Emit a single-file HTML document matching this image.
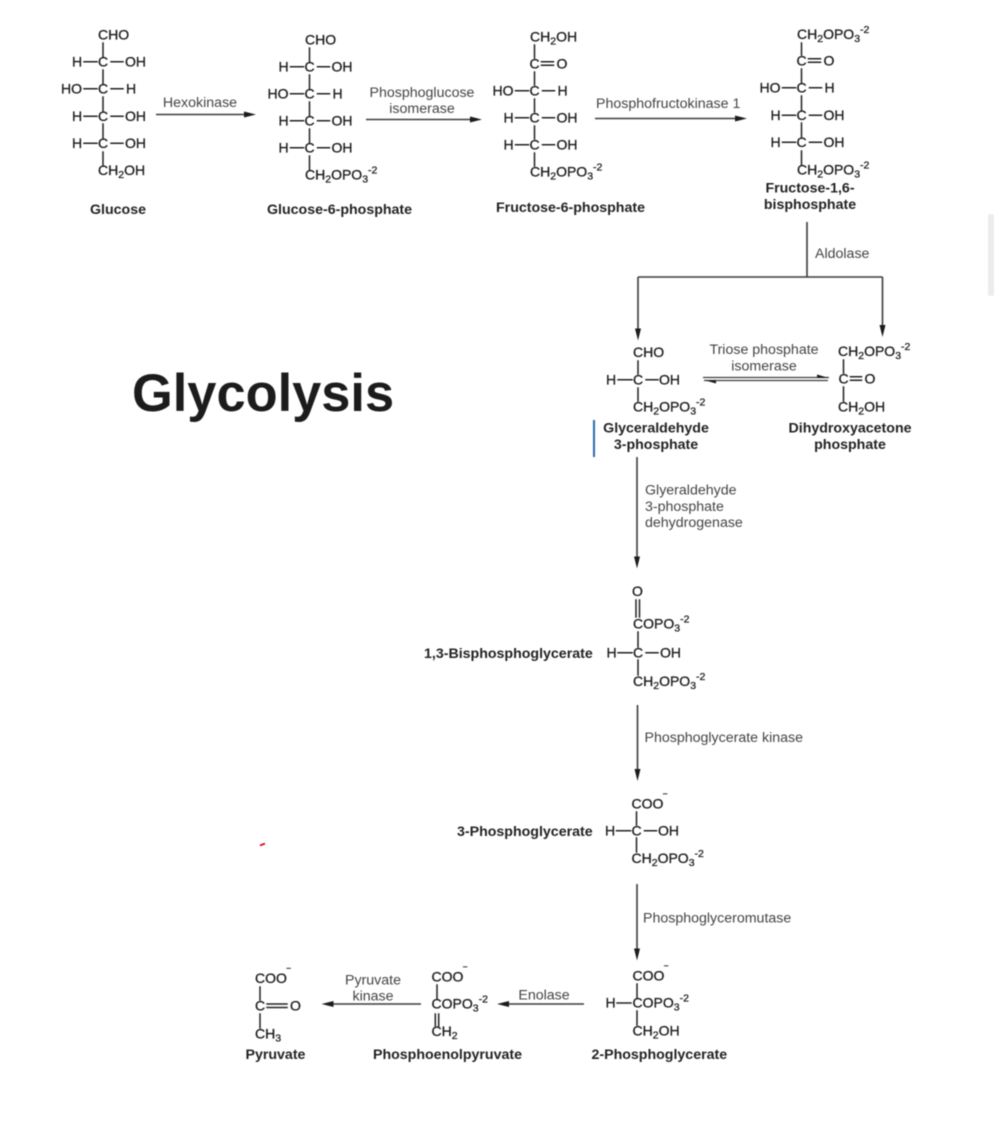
<!DOCTYPE html>
<html lang="en">
<head>
<meta charset="utf-8">
<title>Glycolysis</title>
<style>
html,body{margin:0;padding:0;background:#fff;width:1002px;height:1136px;overflow:hidden}
svg{display:block;filter:blur(.5px)}
text{font-family:"Liberation Sans",Arial,sans-serif;font-size:14px;fill:#1c1c1c;stroke:#1c1c1c;stroke-width:.3px}
.b{font-weight:bold;fill:#222;font-size:14.2px;stroke:none}
.e{fill:#444;font-size:14.2px;stroke:none}
.m{text-anchor:middle}
.bond{stroke:#222;stroke-width:1.5;fill:none;stroke-linecap:square}
.ar{stroke:#3c3c3c;stroke-width:1.6;fill:none}
.hd{fill:#1c1c1c;stroke:none}
.s{font-size:10.500px}
</style>
</head>
<body>
<svg xmlns="http://www.w3.org/2000/svg" width="1002" height="1136" viewBox="0 0 1002 1136">
<rect width="1002" height="1136" fill="#fff"/>
<rect x="988" y="214" width="6" height="82" rx="2" fill="#ececec"/>
<path d="M260 845.500L265 843.500" stroke="#e01020" stroke-width="1.8"/>
<rect x="593" y="420" width="2" height="37" fill="#2a6aad"/>

<text x="132" y="411" style="font-size:52.400px;font-weight:bold;fill:#1c1c1c;stroke:none">Glycolysis</text>

<!-- Glucose -->
<path class="bond" d="M103 43V57M103 70V84M103 97V111M103 124V138M103 152V165"/>
<text x="98" y="39.700">CHO</text>
<g transform="translate(103,66.700)"><text x="-31">H</text><text x="-5">C</text><text x="22">OH</text><path class="bond" d="M-19-5H-6M8-5H20"/></g>
<g transform="translate(103,93.700)"><text x="-42">HO</text><text x="-5">C</text><text x="23">H</text><path class="bond" d="M-19-5H-6M8-5H20"/></g>
<g transform="translate(103,121.200)"><text x="-31">H</text><text x="-5">C</text><text x="22">OH</text><path class="bond" d="M-19-5H-6M8-5H20"/></g>
<g transform="translate(103,148.200)"><text x="-31">H</text><text x="-5">C</text><text x="22">OH</text><path class="bond" d="M-19-5H-6M8-5H20"/></g>
<text x="98" y="175.200">CH<tspan class="s" dy="3">2</tspan><tspan dy="-3">OH</tspan></text>
<text class="b" x="90" y="214">Glucose</text>

<!-- Hexokinase -->
<text class="e m" x="200" y="107">Hexokinase</text>
<path class="ar" d="M156 114.500H248"/><path class="hd" d="M256 114.500L244 111.500V117.500Z"/>

<!-- G6P -->
<path class="bond" d="M309.500 48V62M309.500 75V89M309.500 102V116M309.500 129V143M309.500 156V170"/>
<text x="305" y="44.700">CHO</text>
<g transform="translate(309.500,71.700)"><text x="-31">H</text><text x="-5">C</text><text x="22">OH</text><path class="bond" d="M-19-5H-6M8-5H20"/></g>
<g transform="translate(309.500,98.700)"><text x="-42">HO</text><text x="-5">C</text><text x="23">H</text><path class="bond" d="M-19-5H-6M8-5H20"/></g>
<g transform="translate(309.500,125.700)"><text x="-31">H</text><text x="-5">C</text><text x="22">OH</text><path class="bond" d="M-19-5H-6M8-5H20"/></g>
<g transform="translate(309.500,152.700)"><text x="-31">H</text><text x="-5">C</text><text x="22">OH</text><path class="bond" d="M-19-5H-6M8-5H20"/></g>
<text x="305" y="179.700">CH<tspan class="s" dy="3">2</tspan><tspan dy="-3">OPO</tspan><tspan class="s" dy="3">3</tspan><tspan class="s" dy="-9">-2</tspan></text>
<text class="b" x="267" y="214">Glucose-6-phosphate</text>

<!-- PGI -->
<text class="e m" x="422" y="97">Phosphoglucose</text>
<text class="e m" x="422" y="113">isomerase</text>
<path class="ar" d="M366 119.500H474"/><path class="hd" d="M482 119.500L470 116.500V122.500Z"/>

<!-- F6P -->
<path class="bond" d="M534.500 45V58M534.500 72V85M534.500 99V112M534.500 126V139M534.500 153V166"/>
<text x="530" y="41.700">CH<tspan class="s" dy="3">2</tspan><tspan dy="-3">OH</tspan></text>
<g transform="translate(534.500,68.700)"><text x="-5">C</text><text x="22">O</text><path class="bond" d="M7-7H19M7-3.500H19"/></g>
<g transform="translate(534.500,95.700)"><text x="-42">HO</text><text x="-5">C</text><text x="23">H</text><path class="bond" d="M-19-5H-6M8-5H20"/></g>
<g transform="translate(534.500,122.700)"><text x="-31">H</text><text x="-5">C</text><text x="22">OH</text><path class="bond" d="M-19-5H-6M8-5H20"/></g>
<g transform="translate(534.500,149.700)"><text x="-31">H</text><text x="-5">C</text><text x="22">OH</text><path class="bond" d="M-19-5H-6M8-5H20"/></g>
<text x="530" y="176.700">CH<tspan class="s" dy="3">2</tspan><tspan dy="-3">OPO</tspan><tspan class="s" dy="3">3</tspan><tspan class="s" dy="-9">-2</tspan></text>
<text class="b" x="496" y="212">Fructose-6-phosphate</text>

<!-- PFK -->
<text class="e" x="596" y="108">Phosphofructokinase 1</text>
<path class="ar" d="M595 118.500H739"/><path class="hd" d="M747 118.500L735 115.500V121.500Z"/>

<!-- F16BP -->
<path class="bond" d="M801.500 43V55M801.500 69V83M801.500 96V110M801.500 123V137M801.500 151V165"/>
<text x="797" y="39.200">CH<tspan class="s" dy="3">2</tspan><tspan dy="-3">OPO</tspan><tspan class="s" dy="3">3</tspan><tspan class="s" dy="-9">-2</tspan></text>
<g transform="translate(801.500,65.700)"><text x="-5">C</text><text x="22">O</text><path class="bond" d="M7-7H19M7-3.500H19"/></g>
<g transform="translate(801.500,92.700)"><text x="-42">HO</text><text x="-5">C</text><text x="23">H</text><path class="bond" d="M-19-5H-6M8-5H20"/></g>
<g transform="translate(801.500,120.200)"><text x="-31">H</text><text x="-5">C</text><text x="22">OH</text><path class="bond" d="M-19-5H-6M8-5H20"/></g>
<g transform="translate(801.500,147.200)"><text x="-31">H</text><text x="-5">C</text><text x="22">OH</text><path class="bond" d="M-19-5H-6M8-5H20"/></g>
<text x="797" y="174.700">CH<tspan class="s" dy="3">2</tspan><tspan dy="-3">OPO</tspan><tspan class="s" dy="3">3</tspan><tspan class="s" dy="-9">-2</tspan></text>
<text class="b m" x="810" y="192.500">Fructose-1,6-</text>
<text class="b m" x="810" y="209">bisphosphate</text>

<!-- Aldolase -->
<text class="e" x="815" y="258">Aldolase</text>
<path class="ar" d="M807 222V277M638 277H882.500M638 277V332M882.500 277V328"/>
<path class="hd" d="M638 340.500L635 328.500H641Z"/>
<path class="hd" d="M882.500 337L879.500 325H885.500Z"/>

<!-- GAP -->
<path class="bond" d="M638 361V374M638 388V401"/>
<text x="633" y="357.200">CHO</text>
<g transform="translate(638,384.700)"><text x="-32">H</text><text x="-5">C</text><text x="21">OH</text><path class="bond" d="M-20-5H-6M8-5H20"/></g>
<text x="633" y="411.700">CH<tspan class="s" dy="3">2</tspan><tspan dy="-3">OPO</tspan><tspan class="s" dy="3">3</tspan><tspan class="s" dy="-9">-2</tspan></text>
<text class="b m" x="656" y="432.500">Glyceraldehyde</text>
<text class="b m" x="656" y="449">3-phosphate</text>

<!-- TPI -->
<text class="e m" x="764" y="354">Triose phosphate</text>
<text class="e m" x="764" y="370.500">isomerase</text>
<path class="ar" style="stroke-width:1.300" d="M703 377.500H829M704 380.500H828"/>
<path class="hd" d="M829 378L817 374.500V378Z"/>
<path class="hd" d="M704 380L716 383.500V380Z"/>

<!-- DHAP -->
<path class="bond" d="M843.500 360V373M843.500 387V401"/>
<text x="838" y="356.200">CH<tspan class="s" dy="3">2</tspan><tspan dy="-3">OPO</tspan><tspan class="s" dy="3">3</tspan><tspan class="s" dy="-9">-2</tspan></text>
<g transform="translate(843.500,383.700)"><text x="-5">C</text><text x="21">O</text><path class="bond" d="M7-7H18M7-3.500H18"/></g>
<text x="838" y="411.700">CH<tspan class="s" dy="3">2</tspan><tspan dy="-3">OH</tspan></text>
<text class="b m" x="850" y="432.500">Dihydroxyacetone</text>
<text class="b m" x="850" y="449">phosphate</text>

<!-- GAPDH -->
<text class="e" x="645" y="494.500">Glyeraldehyde</text>
<text class="e" x="645" y="511">3-phosphate</text>
<text class="e" x="645" y="527">dehydrogenase</text>
<path class="ar" d="M637 457V560"/><path class="hd" d="M637 568.500L634 556.500H640Z"/>

<!-- 1,3-BPG -->
<text class="m" x="637.500" y="596">O</text>
<path class="bond" d="M636 600V617M639.500 600V617"/>
<text x="633" y="628.700">COPO<tspan class="s" dy="3">3</tspan><tspan class="s" dy="-9">-2</tspan></text>
<path class="bond" d="M638 632V647M638 660V675"/>
<g transform="translate(638,657.700)"><text x="-31.500">H</text><text x="-5">C</text><text x="22">OH</text><path class="bond" d="M-20-5H-6M8-5H20"/></g>
<text x="633" y="686.200">CH<tspan class="s" dy="3">2</tspan><tspan dy="-3">OPO</tspan><tspan class="s" dy="3">3</tspan><tspan class="s" dy="-9">-2</tspan></text>
<text class="b" x="424" y="658">1,3-Bisphosphoglycerate</text>

<!-- PGK -->
<text class="e" x="644.500" y="742">Phosphoglycerate kinase</text>
<path class="ar" d="M637.500 705V773"/><path class="hd" d="M637.500 781L634.500 769H640.500Z"/>

<!-- 3PG -->
<text x="631.500" y="808.700">COO<tspan class="s" dy="-7">&#8254;</tspan></text>
<path class="bond" d="M636.500 812V825M636.500 838V852"/>
<g transform="translate(636.500,835.700)"><text x="-31.500">H</text><text x="-5">C</text><text x="21.500">OH</text><path class="bond" d="M-20-5H-6M8-5H20"/></g>
<text x="631.500" y="863.200">CH<tspan class="s" dy="3">2</tspan><tspan dy="-3">OPO</tspan><tspan class="s" dy="3">3</tspan><tspan class="s" dy="-9">-2</tspan></text>
<text class="b" x="457" y="836">3-Phosphoglycerate</text>

<!-- PGM -->
<text class="e" x="643" y="922.500">Phosphoglyceromutase</text>
<path class="ar" d="M637 884V952"/><path class="hd" d="M637 960.500L634 948.500H640Z"/>

<!-- 2PG -->
<text x="632.500" y="980.700">COO<tspan class="s" dy="-7">&#8254;</tspan></text>
<path class="bond" d="M637 984V998M637 1011V1025"/>
<text x="605.500" y="1007.700">H</text>
<path class="bond" d="M617 1003H631"/>
<text x="632.500" y="1007.700">COPO<tspan class="s" dy="3">3</tspan><tspan class="s" dy="-9">-2</tspan></text>
<text x="632.500" y="1035.700">CH<tspan class="s" dy="3">2</tspan><tspan dy="-3">OH</tspan></text>
<text class="b" x="591.500" y="1059">2-Phosphoglycerate</text>

<!-- Enolase -->
<text class="e m" x="544" y="999.500">Enolase</text>
<path class="ar" d="M584 1004H505"/><path class="hd" d="M497 1004L509 1001V1007Z"/>

<!-- PEP -->
<text x="431.500" y="981.700">COO<tspan class="s" dy="-7">&#8254;</tspan></text>
<path class="bond" d="M437 985V999M435.300 1014V1026M438.700 1014V1026"/>
<text x="431.500" y="1008.700">COPO<tspan class="s" dy="3">3</tspan><tspan class="s" dy="-9">-2</tspan></text>
<text x="431.500" y="1036.200">CH<tspan class="s" dy="3">2</tspan></text>
<text class="b" x="373" y="1059">Phosphoenolpyruvate</text>

<!-- PK -->
<text class="e m" x="373" y="984.500">Pyruvate</text>
<text class="e m" x="373" y="1000.500">kinase</text>
<path class="ar" d="M421 1004H330"/><path class="hd" d="M321.500 1004L333.500 1001V1007Z"/>

<!-- Pyruvate -->
<text x="255" y="983.200">COO<tspan class="s" dy="-7">&#8254;</tspan></text>
<path class="bond" d="M260 987V1000M260 1014V1028"/>
<text x="255" y="1010.700">C</text>
<path class="bond" d="M267 1004H287M267 1007.500H287"/>
<text x="290" y="1010.700">O</text>
<text x="255" y="1038.700">CH<tspan class="s" dy="3">3</tspan></text>
<text class="b" x="245.500" y="1059">Pyruvate</text>
</svg>
</body>
</html>
